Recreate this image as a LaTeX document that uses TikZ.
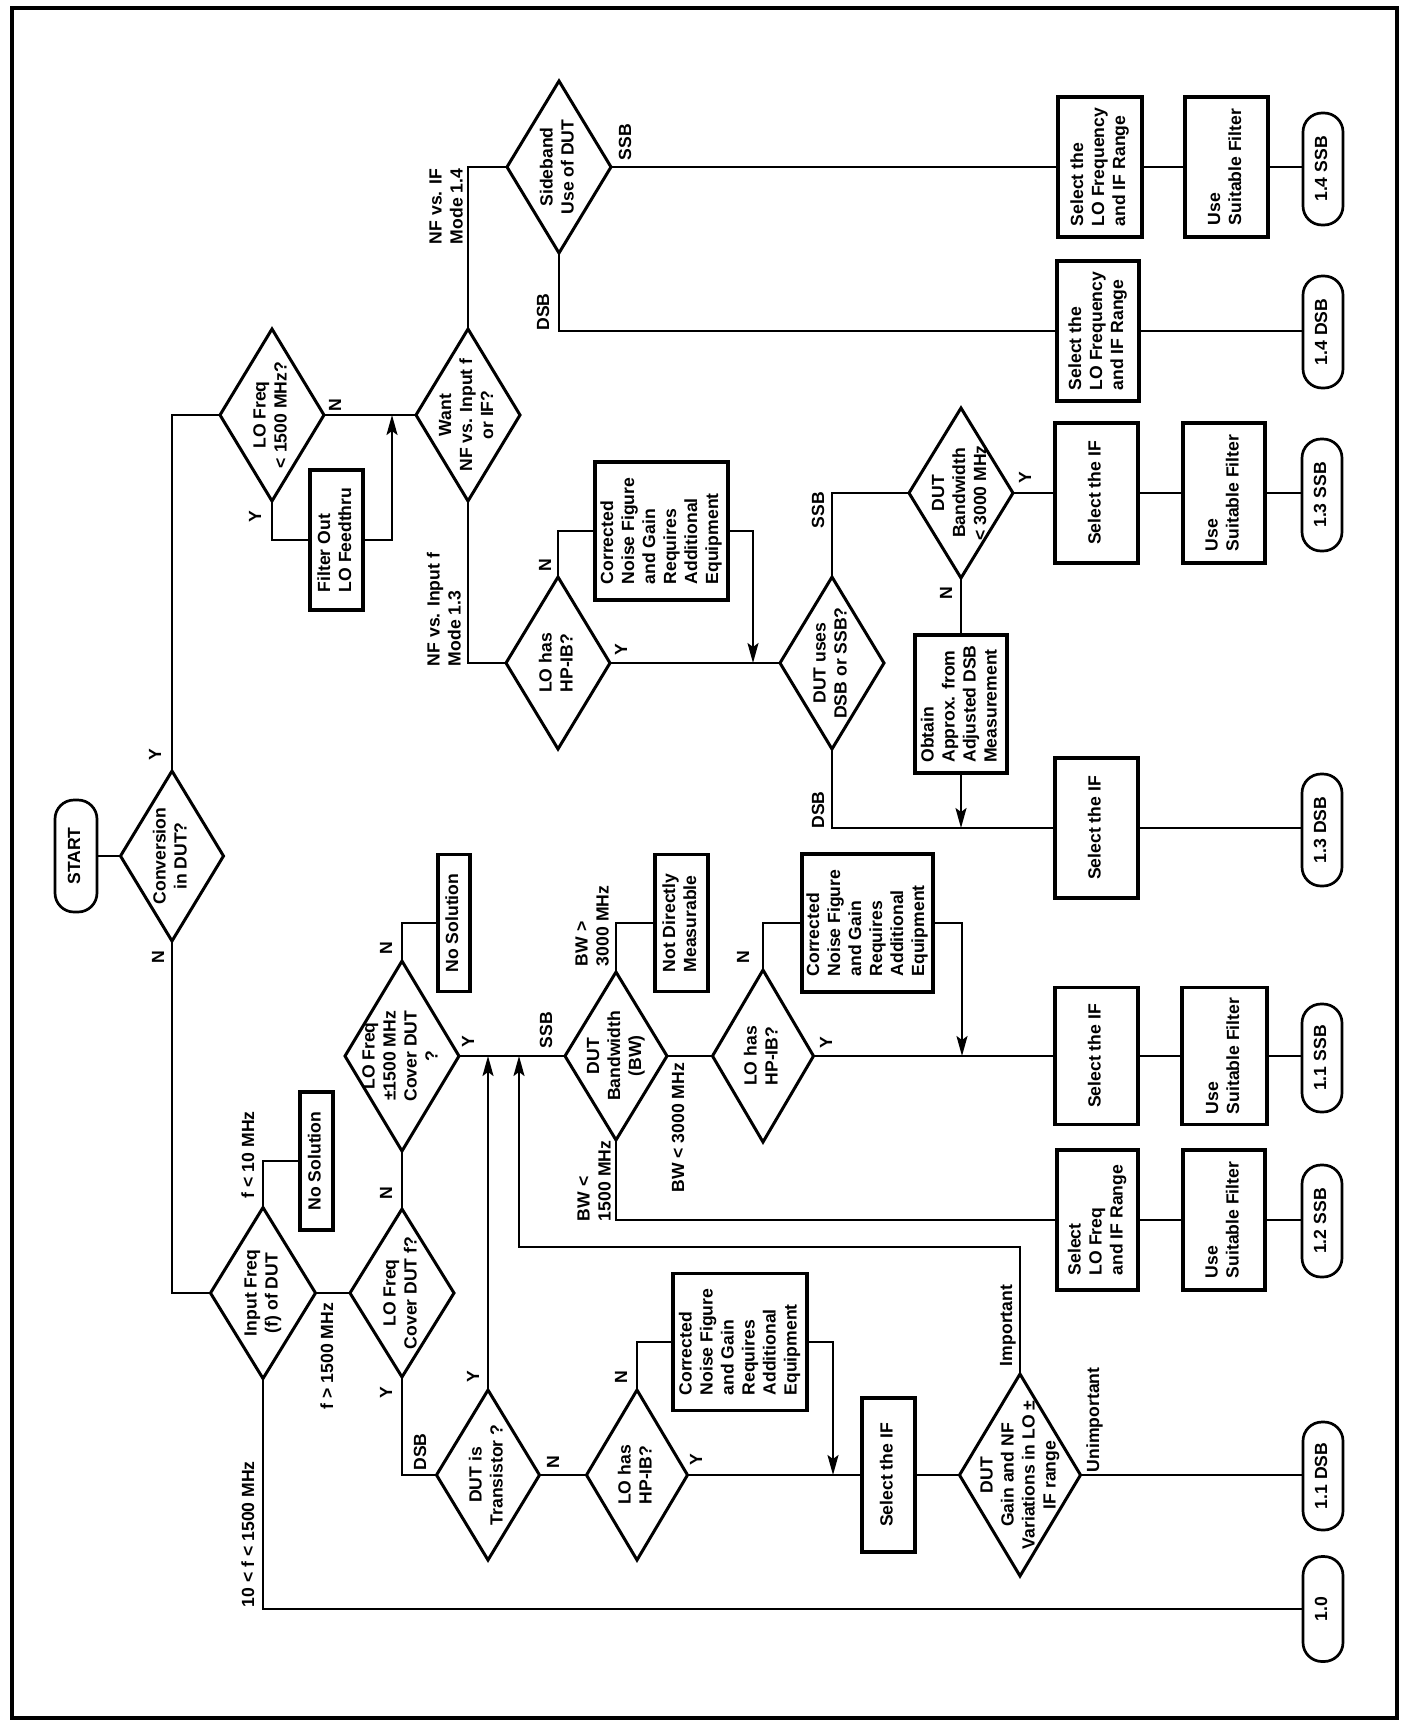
\documentclass[tikz,border=0pt]{standalone}
\usepackage{fontspec}
\setmainfont{Liberation Sans}
\usepackage{graphicx}
\usetikzlibrary{shapes.geometric,arrows.meta}
% zero-size rotated text (shape size set by minimum width/height)
\newcommand\zt[1]{\makebox[0pt][c]{\raisebox{-.5\height}[0pt][0pt]{\rotatebox{90}{\begin{tabular}{@{}c@{}}#1\end{tabular}}}}}
\newcommand\zl[1]{\makebox[0pt][c]{\raisebox{-.5\height}[0pt][0pt]{\rotatebox{90}{\begin{tabular}{@{}l@{}}#1\end{tabular}}}}}
% real-size rotated text for labels
\newcommand\rc[1]{\rotatebox{90}{\begin{tabular}{@{}c@{}}#1\end{tabular}}}
\newcommand\rl[1]{\rotatebox{90}{\begin{tabular}{@{}l@{}}#1\end{tabular}}}
\tikzset{
  every node/.style={font=\fontsize{17.6}{21}\selectfont\bfseries, inner sep=0pt, outer sep=0pt},
  dia/.style={draw, line width=3pt, diamond, minimum width=104pt, minimum height=172pt},
  box/.style={draw, line width=3.2pt, rectangle, minimum width=84pt, minimum height=140pt},
  term/.style={draw, line width=2.7pt, rectangle, rounded corners=19pt, minimum width=40pt, minimum height=112pt},
  con/.style={line width=2.1pt},
  arr/.style={con, -{Stealth[length=20pt,width=11pt,inset=4pt]}},
}
\begin{document}
\begin{tikzpicture}[x=1pt,y=-1pt]
\useasboundingbox (0,0) rectangle (1406,1722);
\draw[line width=3.2pt] (12,8) rectangle (1397,1718);

% ---------- upper half (conversion) ----------
\node[term, minimum width=42pt] (start) at (76,856) {\zt{START}};
\node[dia, minimum width=103pt, minimum height=170pt] (conv) at (172,856) {\zt{Conversion\\in DUT?}};
\node[dia] (lof) at (272,415) {\zt{LO Freq\\< 1500 MHz?}};
\node[box, minimum width=53pt, minimum height=140pt] (filt) at (336.5,540) {\zl{Filter Out\\LO Feedthru}};
\node[dia] (want) at (468,415) {\zt{Want\\NF vs. Input f\\or IF?}};
\node[dia] (side) at (559,167) {\zt{Sideband\\Use of DUT}};
\node[box] (sel14s) at (1100,167) {\zl{Select the\\LO Frequency\\and IF Range}};
\node[box, minimum width=83pt] (use14) at (1226.5,167) {\zl{Use\\Suitable Filter}};
\node[term] (t14s) at (1323,169) {\zt{1.4 SSB}};
\node[box, minimum width=82pt] (sel14d) at (1098,331) {\zl{Select the\\LO Frequency\\and IF Range}};
\node[term] (t14d) at (1323,332) {\zt{1.4 DSB}};
\node[dia] (lohA) at (558,663) {\zt{LO has\\HP-IB?}};
\node[box, minimum width=133pt, minimum height=138pt] (corrA) at (661.5,531) {\zl{Corrected\\Noise Figure\\and Gain\\Requires\\Additional\\Equipment}};
\node[dia] (dutuses) at (832,663) {\zt{DUT uses\\DSB or SSB?}};
\node[dia, minimum height=170pt] (bw3) at (961,493) {\zt{DUT\\Bandwidth\\< 3000 MHz}};
\node[box, minimum width=83pt] (sel13s) at (1096.5,493) {\zt{Select the IF}};
\node[box, minimum width=82pt] (use13) at (1224,493) {\zl{Use\\Suitable Filter}};
\node[term] (t13s) at (1322,495) {\zt{1.3 SSB}};
\node[box, minimum width=92pt, minimum height=138pt] (obtain) at (961,704) {\zl{Obtain\\Approx. from\\Adjusted DSB\\Measurement}};
\node[box, minimum width=83pt] (sel13d) at (1096.5,828) {\zt{Select the IF}};
\node[term] (t13d) at (1322,830) {\zt{1.3 DSB}};

% ---------- lower half (no conversion) ----------
\node[dia, minimum width=105pt, minimum height=171pt] (inf) at (263,1293) {\zt{Input Freq\\(f) of DUT}};
\node[box, minimum width=33pt, minimum height=138pt] (nosolB) at (316.5,1161) {\zt{No Solution}};
\node[dia, minimum height=168pt] (lofc) at (402,1293) {\zt{LO Freq\\Cover DUT f?}};
\node[dia, minimum width=114pt, minimum height=190pt] (lopm) at (402,1056) {\zt{LO Freq\\±1500 MHz\\Cover DUT\\?}};
\node[box, minimum width=32pt, minimum height=137pt] (nosolA) at (454,923) {\zt{No Solution}};
\node[dia, minimum width=102pt, minimum height=168pt] (bwbw) at (616,1056) {\zt{DUT\\Bandwidth\\(BW)}};
\node[box, minimum width=53pt, minimum height=137pt] (notdir) at (681.5,923) {\zl{Not Directly\\Measurable}};
\node[dia, minimum width=101pt] (lohB) at (763,1056) {\zt{LO has\\HP-IB?}};
\node[box, minimum width=131pt, minimum height=138pt] (corrB) at (867.5,923) {\zl{Corrected\\Noise Figure\\and Gain\\Requires\\Additional\\Equipment}};
\node[box, minimum width=83pt, minimum height=137pt] (sel11s) at (1096.5,1056) {\zt{Select the IF}};
\node[box, minimum width=85pt, minimum height=137pt] (use11) at (1224.5,1056) {\zl{Use\\Suitable Filter}};
\node[term, minimum height=108pt] (t11s) at (1322,1058) {\zt{1.1 SSB}};
\node[box, minimum width=81pt] (sel12) at (1097.5,1220) {\zl{Select\\LO Freq\\and IF Range}};
\node[box, minimum width=82pt] (use12) at (1224,1220) {\zl{Use\\Suitable Filter}};
\node[term] (t12) at (1322,1221) {\zt{1.2 SSB}};
\node[dia, minimum width=103pt, minimum height=170pt] (trans) at (488,1475) {\zt{DUT is\\Transistor ?}};
\node[dia, minimum width=101pt, minimum height=170pt] (lohC) at (637,1475) {\zt{LO has\\HP-IB?}};
\node[box, minimum width=134pt, minimum height=137pt] (corrC) at (740,1342) {\zl{Corrected\\Noise Figure\\and Gain\\Requires\\Additional\\Equipment}};
\node[box, minimum width=53pt, minimum height=154pt] (selIF) at (888.5,1475) {\zt{Select the IF}};
\node[dia, minimum width=121pt, minimum height=202pt] (gain) at (1020,1475) {\zt{DUT\\Gain and NF\\Variations in LO ±\\IF range}};
\node[term, minimum height=108pt] (t11d) at (1323,1476) {\zt{1.1 DSB}};
\node[term, minimum height=105pt] (t10) at (1323,1609) {\zt{1.0}};

% ---------- junction points for arrows ----------
\coordinate (j1) at (392,415);
\coordinate (j2) at (753,663);
\coordinate (j3) at (961,828);
\coordinate (j4) at (962,1056);
\coordinate (j5) at (488,1056);
\coordinate (j6) at (833,1475);
\coordinate (j7) at (519,1247);
\coordinate (j8) at (519,1056);

% ---------- connectors ----------
\draw[con] (start) -- (conv);
\draw[con] (conv.north) |- (lof.west);
\draw[con] (lof.east) -- (want.west);
\draw[con] (lof.south) |- (filt.west);
\draw[arr] (filt.east) -| (j1);
\draw[con] (want.north) |- (side.west);
\draw[con] (side.east) -- (sel14s.west);
\draw[con] (sel14s) -- (use14);
\draw[con] (use14.east) -- (use14.east -| t14s.west);
\draw[con] (side.south) |- (sel14d.west);
\draw[con] (sel14d.east) -- (sel14d.east -| t14d.west);
\draw[con] (want.south) |- (lohA.west);
\draw[con] (lohA.north) |- (corrA.west);
\draw[arr] (corrA.east) -| (j2);
\draw[con] (lohA.east) -- (dutuses.west);
\draw[con] (dutuses.north) |- (bw3.west);
\draw[con] (bw3.east) -- (sel13s.west);
\draw[con] (sel13s) -- (use13);
\draw[con] (use13.east) -- (use13.east -| t13s.west);
\draw[con] (bw3.south) -- (obtain.north);
\draw[arr] (obtain.south) -- (j3);
\draw[con] (dutuses.south) |- (sel13d.west);
\draw[con] (sel13d.east) -- (sel13d.east -| t13d.west);

\draw[con] (conv.south) |- (inf.west);
\draw[con] (inf.north) |- (nosolB.west);
\draw[con] (inf.east) -- (lofc.west);
\draw[con] (inf.south) |- (t10.west);
\draw[con] (lofc.north) -- (lopm.south);
\draw[con] (lopm.north) |- (nosolA.west);
\draw[con] (lopm.east) -- (bwbw.west);
\draw[con] (bwbw.north) |- (notdir.west);
\draw[con] (bwbw.east) -- (lohB.west);
\draw[con] (bwbw.south) |- (sel12.west);
\draw[con] (sel12) -- (use12);
\draw[con] (use12.east) -- (use12.east -| t12.west);
\draw[con] (lohB.north) |- (corrB.west);
\draw[arr] (corrB.east) -| (j4);
\draw[con] (lohB.east) -- (sel11s.west);
\draw[con] (sel11s) -- (use11);
\draw[con] (use11.east) -- (use11.east -| t11s.west);
\draw[con] (lofc.south) |- (trans.west);
\draw[arr] (trans.north) -- (j5);
\draw[con] (trans.east) -- (lohC.west);
\draw[con] (lohC.north) |- (corrC.west);
\draw[arr] (corrC.east) -| (j6);
\draw[con] (lohC.east) -- (selIF.west);
\draw[con] (selIF.east) -- (gain.west);
\draw[arr] (gain.north) |- (j7) -- (j8);
\draw[con] (gain.east) -- (gain.east -| t11d.west);

% ---------- branch labels ----------
\node (lb1) at (157,755) {\rc{Y}};
\node (lb2) at (160,957) {\rc{N}};
\node (lb3) at (257,517) {\rc{Y}};
\node (lb4) at (337,405) {\rc{N}};
\node[anchor=south] (lb5) at (448,244) {\rl{NF vs. IF\\Mode 1.4}};
\node[anchor=south] (lb6) at (446,666) {\rl{NF vs. Input f\\Mode 1.3}};
\node (lb7) at (627,142) {\rc{SSB}};
\node (lb8) at (545,312) {\rc{DSB}};
\node (lb9) at (547,565) {\rc{N}};
\node (lb10) at (623,650) {\rc{Y}};
\node (lb11) at (820,510) {\rc{SSB}};
\node (lb12) at (820,810) {\rc{DSB}};
\node (lb13) at (1027,478) {\rc{Y}};
\node (lb14) at (948,593) {\rc{N}};
\node[anchor=south] (lb15) at (250,1198) {\rc{f < 10 MHz}};
\node[anchor=south] (lb16) at (250,1607) {\rc{10 < f < 1500 MHz}};
\node[anchor=north] (lb17) at (329,1303) {\rc{f > 1500 MHz}};
\node (lb18) at (388,1193) {\rc{N}};
\node (lb19) at (388,948) {\rc{N}};
\node (lb20) at (470,1042) {\rc{Y}};
\node (lb21) at (548,1030) {\rc{SSB}};
\node[anchor=south] (lb22) at (594,966) {\rl{BW >\\3000 MHz}};
\node[anchor=north] (lb23) at (680,1063) {\rc{BW < 3000 MHz}};
\node[anchor=south] (lb24) at (596,1221) {\rl{BW <\\1500 MHz}};
\node (lb25) at (745,957) {\rc{N}};
\node (lb26) at (828,1043) {\rc{Y}};
\node (lb27) at (388,1393) {\rc{Y}};
\node (lb28) at (422,1452) {\rc{DSB}};
\node (lb29) at (475,1377) {\rc{Y}};
\node (lb30) at (555,1462) {\rc{N}};
\node (lb31) at (623,1377) {\rc{N}};
\node (lb32) at (698,1460) {\rc{Y}};
\node[anchor=south] (lb33) at (1008,1366) {\rc{Important}};
\node[anchor=south] (lb34) at (1095,1472) {\rc{Unimportant}};
\end{tikzpicture}
\end{document}
